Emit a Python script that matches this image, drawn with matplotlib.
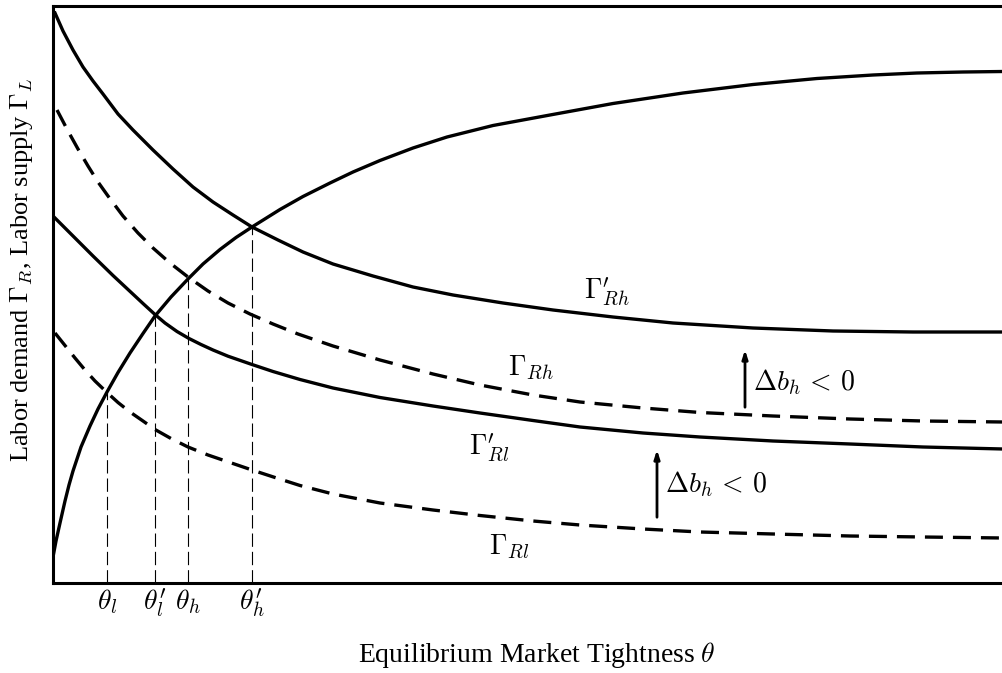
import matplotlib
matplotlib.use("Agg")
import matplotlib.pyplot as plt

plt.rcParams["font.family"] = ["Liberation Serif", "DejaVu Serif"]
plt.rcParams["mathtext.fontset"] = "cm"

# curves (theta, level), arbitrary units
supply_x = [0, 3, 7, 12, 16, 20, 28, 37, 45, 54, 65, 77, 90, 102, 118, 135, 150, 167, 183, 199,
            227, 250, 277, 300, 327, 360, 394, 440, 497, 560, 630, 700, 764, 820, 864, 910, 950]
supply_y = [26, 42, 60, 82, 98, 112, 136, 157, 174, 191, 210.5, 230, 249.5, 267, 286, 304, 319, 333.5, 345.5, 356,
            373.5, 386.5, 400, 411, 422.5, 435, 446, 457.5, 468, 479.5, 490, 498.5, 504.5, 508, 510, 511, 511.5]

rh_new_x = [2, 10, 20, 30, 40, 50, 65, 80, 100, 120, 140, 160, 180, 199, 225, 250, 280, 320, 360,
            400, 450, 500, 560, 620, 700, 780, 860, 950]
rh_new_y = [570, 552, 533, 516, 502, 489, 469, 453, 433, 414, 396, 381, 368, 356, 343, 331, 319, 307, 296,
            288, 280, 273, 266, 260, 255, 252, 251, 251]

rh_x = [4, 15, 25, 35, 45, 55, 70, 85, 100, 117, 135, 155, 175, 197, 220, 245, 280, 327, 380, 427,
        480, 527, 590, 647, 720, 797, 870, 950]
rh_y = [473, 452, 434, 417, 401, 387, 367, 350, 335, 320, 306, 292, 280, 269, 259, 249, 237, 223, 209, 198,
        188, 181, 175, 170.5, 167, 164, 162, 161]

rl_new_x = [2, 20, 40, 60, 75, 90, 102, 112, 124, 136, 148, 160, 175, 199, 220, 247, 280, 327, 380, 427,
            480, 527, 590, 647, 720, 797, 870, 950]
rl_new_y = [365, 347, 327, 307.5, 293.5, 279.5, 268.5, 260, 251.5, 244.5, 238.5, 233, 226.8, 218.5, 211.5, 203.5, 195, 185.5, 177, 170,
            162.5, 156, 150, 146, 142, 139, 136, 134]

rl_x = [2, 12, 22, 32, 42, 54, 65, 77, 90, 102, 118, 135, 155, 177, 199, 222, 247, 280, 327, 380,
        427, 480, 527, 590, 647, 720, 797, 870, 950]
rl_y = [250, 237.5, 225, 213, 202, 190.5, 180.5, 171, 162, 153.5, 144.5, 136, 128, 120.5, 113, 105.5, 97.5, 89, 80, 73,
        67.5, 62, 58, 54, 51, 49, 47, 46, 45]

# equilibrium points
eq_x = [54, 102, 135, 199]
eq_y = [191, 267, 304, 356]
eq_labels = [r"$\theta_l$", r"$\theta_l'$", r"$\theta_h$", r"$\theta_h'$"]

fig = plt.figure(figsize=(10.03, 6.73), dpi=100)
ax = fig.add_axes([53 / 1003, 90 / 673, 950 / 1003, 577 / 673])

lw = 2.4
ax.plot(supply_x, supply_y, color="black", lw=lw)
ax.plot(rh_new_x, rh_new_y, color="black", lw=lw)
ax.plot(rl_new_x, rl_new_y, color="black", lw=lw)
ax.plot(rh_x, rh_y, color="black", lw=lw, dashes=(5.4, 3))
ax.plot(rl_x, rl_y, color="black", lw=lw, dashes=(5.4, 3))

for x, y in zip(eq_x, eq_y):
    ax.plot([x, x], [0, y], color="black", lw=0.8, dashes=(12, 4.5))

ax.set_xlim(0, 950)
ax.set_ylim(0, 577)
ax.set_xticks(eq_x)
ax.set_xticklabels(eq_labels, fontsize=20)
ax.tick_params(axis="x", length=0, pad=3)
ax.set_yticks([])
for s in ["left", "top", "bottom"]:
    ax.spines[s].set_linewidth(2.2)
ax.spines["right"].set_visible(False)

# curve labels
ax.text(554, 291, r"$\Gamma_{Rh}'$", fontsize=20, ha="center", va="center")
ax.text(478, 215, r"$\Gamma_{Rh}$", fontsize=20, ha="center", va="center")
ax.text(436, 135, r"$\Gamma_{Rl}'$", fontsize=20, ha="center", va="center")
ax.text(456, 36, r"$\Gamma_{Rl}$", fontsize=20, ha="center", va="center")

# shift arrows
ax.annotate("", xy=(692, 236), xytext=(692, 173),
            arrowprops=dict(arrowstyle="-|>,head_length=0.5,head_width=0.16", color="black", lw=2))
ax.text(700, 201, r"$\Delta b_h \,<\, 0$", fontsize=20, ha="left", va="center")
ax.annotate("", xy=(604, 136), xytext=(604, 63),
            arrowprops=dict(arrowstyle="-|>,head_length=0.5,head_width=0.16", color="black", lw=2))
ax.text(612, 99, r"$\Delta b_h \,<\, 0$", fontsize=20, ha="left", va="center")

fig.text(537 / 1003, 1 - 662 / 673, r"Equilibrium Market Tightness $\theta$", fontsize=20,
         ha="center", va="baseline")
fig.text(22 / 1003, 1 - 270 / 673, r"Labor demand $\Gamma_R$, Labor supply $\Gamma_L$", fontsize=19,
         ha="center", va="center", rotation=90)

fig.savefig("out.png", dpi=100)
